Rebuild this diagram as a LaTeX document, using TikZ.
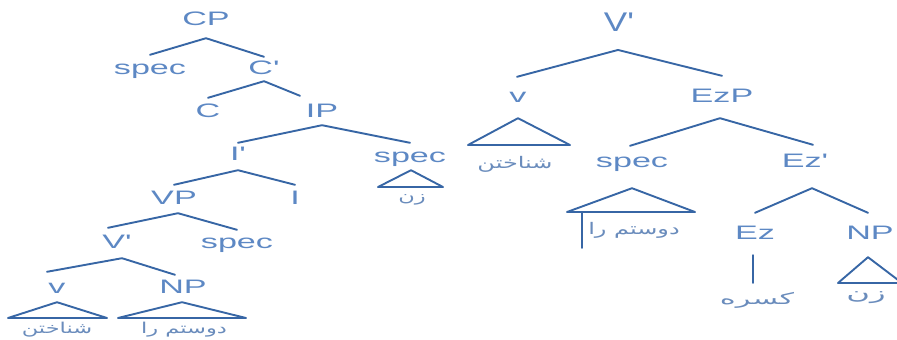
\documentclass[tikz,border=0pt]{standalone}
\usepackage{fontspec}
\TeXXeTstate=1
\newfontfamily\lab[FakeStretch=1.75]{Liberation Sans}
\newfontfamily\labv[FakeStretch=1.3]{Liberation Sans}
\newfontfamily\fa[Script=Arabic,FakeStretch=1.5]{DejaVu Sans}
\newfontfamily\fawide[Script=Arabic,FakeStretch=1.9]{DejaVu Sans}
\definecolor{txt}{HTML}{5D88C4}
\definecolor{ln}{HTML}{3766A5}
\definecolor{fatxt}{HTML}{6A8CBC}
\tikzset{
  lbl/.style={font=\lab\fontsize{19.5}{20}\selectfont, text=txt, text height=14pt, text depth=0pt, inner sep=0pt},
  lblbig/.style={font=\labv\fontsize{27}{28}\selectfont, text=txt, text height=19.5pt, text depth=0pt, inner sep=0pt},
  fatext/.style={font=\fa\fontsize{15}{17}\selectfont, text=fatxt, inner sep=0pt},
  fatextR/.style={font=\fa\fontsize{16}{18}\selectfont, text=fatxt, inner sep=0pt},
  br/.style={draw=ln, line width=1.9pt, line cap=round, line join=round}
}
\begin{document}
\begin{tikzpicture}[x=1pt,y=-1pt]
\useasboundingbox (0,0) rectangle (897,340);
% ---------- left tree ----------
\node[lbl] (CP) at (206,18) {CP};
\node[lbl] (specA) at (150,67) {spec};
\node[lbl] (Cbar) at (264,67) {C'};
\node[lbl] (C) at (208,110) {C};
\node[lbl] (IP) at (322,110) {IP};
\node[lbl] (Ibar) at (238,153) {I'};
\node[lbl] (specB) at (410,155) {spec};
\node[lbl] (VP) at (174,197) {VP};
\node[lbl] (I) at (295,197) {I};
\node[lbl] (Vbar) at (117,241) {V'};
\node[lbl] (specC) at (237,241) {spec};
\node[lbl] (vL) at (57,286) {v};
\node[lbl] (NPL) at (183,286) {NP};
\node[fatext] (faA) at (57,330) {\beginR شناختن\endR};
\node[fatext] (faB) at (184,330) {\beginR دوستم را\endR};
\node[fatext] (faC) at (412,200) {\beginR زن\endR};
\coordinate (tA1) at (8,318); \coordinate (tA2) at (107,318);
\coordinate (tB1) at (118,318); \coordinate (tB2) at (246,318);
\coordinate (tC1) at (378,187); \coordinate (tC2) at (443,187);

\draw[br] ([yshift=5pt]specA.north) -- ([yshift=-13pt]CP.south) -- ([yshift=3pt]Cbar.north);
\draw[br] ([yshift=5pt]C.north) -- ([yshift=-7pt]Cbar.south) -- ([yshift=7pt,xshift=-22pt]IP.north);
\draw[br] ([yshift=3pt]Ibar.north) -- ([yshift=-8pt]IP.south) -- ([yshift=5pt]specB.north);
\draw[br] ([yshift=5pt]VP.north) -- ([yshift=-10pt]Ibar.south) -- ([yshift=5pt]I.north);
\draw[br] ([yshift=6pt,xshift=-9pt]Vbar.north) -- ([yshift=-9pt,xshift=4pt]VP.south) -- ([yshift=4pt]specC.north);
\draw[br] ([yshift=7pt,xshift=-10pt]vL.north) -- ([yshift=-10pt,xshift=5pt]Vbar.south) -- ([yshift=4pt,xshift=-8pt]NPL.north);
\draw[br] ([yshift=-9pt]vL.south) -- (tA1) -- (tA2) -- cycle;
\draw[br] ([yshift=-9pt,xshift=-1pt]NPL.south) -- (tB1) -- (tB2) -- cycle;
\draw[br] ([yshift=-8pt,xshift=1pt]specB.south) -- (tC1) -- (tC2) -- cycle;

% ---------- right tree ----------
\node[lblbig] (Vtop) at (619,22) {V'};
\node[lbl] (vR) at (518,95) {v};
\node[lbl] (EzP) at (722,95) {EzP};
\node[lbl] (specR) at (632,160) {spec};
\node[lbl] (Ezbar) at (805,160) {Ez'};
\node[lbl] (Ez) at (755,232) {Ez};
\node[lbl] (NPR) at (870,232) {NP};
\node[fatextR] (faD) at (515,164) {\beginR شناختن\endR};
\node[fatextR] (faE) at (634,230) {\beginR دوستم را\endR};
\node[fatextR, font=\fawide\fontsize{16}{18}\selectfont] (faF) at (757,300) {\beginR کسره\endR};
\node[fatextR, font=\fawide\fontsize{17}{19}\selectfont] (faG) at (866,298) {\beginR زن\endR};
\coordinate (tD1) at (468,145); \coordinate (tD2) at (570,145);
\coordinate (tE1) at (567,212); \coordinate (tE2) at (695,212);
\coordinate (tG1) at (838,283); \coordinate (tG2) at (902,283);
\coordinate (bar1) at (582,212); \coordinate (bar2) at (582,248);
\coordinate (ezend) at (753,283);

\draw[br] ([yshift=11pt,xshift=-1pt]vR.north) -- ([yshift=-18pt,xshift=-1pt]Vtop.south) -- ([yshift=12pt]EzP.north);
\draw[br] ([yshift=7pt,xshift=-2pt]specR.north) -- ([yshift=-16pt,xshift=-2pt]EzP.south) -- ([yshift=8pt,xshift=8pt]Ezbar.north);
\draw[br] ([yshift=12pt]Ez.north) -- ([yshift=-21pt,xshift=7pt]Ezbar.south) -- ([yshift=12pt,xshift=-2pt]NPR.north);
\draw[br] ([yshift=-16pt]vR.south) -- (tD1) -- (tD2) -- cycle;
\draw[br] ([yshift=-21pt]specR.south) -- (tE1) -- (tE2) -- cycle;
\draw[br] (bar1) -- (bar2);
\draw[br] ([yshift=-16pt,xshift=-2pt]Ez.south) -- (ezend);
\draw[br] ([yshift=-18pt,xshift=-2pt]NPR.south) -- (tG1) -- (tG2) -- cycle;
\end{tikzpicture}
\end{document}
